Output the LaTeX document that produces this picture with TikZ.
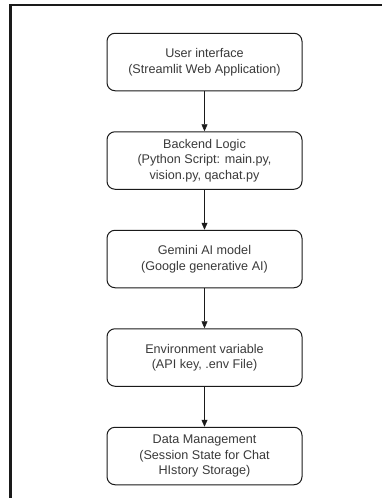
\documentclass[tikz,border=0pt]{standalone}
\usepackage{fontspec}
\setmainfont{Liberation Sans}
\usepackage{xcolor}
\usetikzlibrary{
	arrows.meta,
	positioning
}
\definecolor{textgray}{HTML}{3A3A3A}
\definecolor{edgegray}{HTML}{1A1A1A}

\begin{document}
\begin{tikzpicture}[x=1pt, y=1pt,
		blockbox/.style={draw=edgegray, line width=1pt, rounded corners=8pt, fill=white,
			minimum width=195pt, minimum height=57.5pt, align=center,
			text=textgray, font=\fontsize{12.6}{15.5}\selectfont},
		flowarrow/.style={draw=edgegray, line width=0.6pt, -{Triangle[length=7pt, width=6pt]}},
		node distance=40pt]
		\useasboundingbox (0,0) rectangle (382,-498);
		% outer frame
		\coordinate (TL) at (10,-5);
		\coordinate (TR) at (382,-5);
		\coordinate (BL) at (10,-498);
		\draw[line width=2pt, edgegray] (TL)--(TR);
		\draw[line width=3pt, edgegray] (BL)--(10,-4);
		% blocks
		\node[blockbox] (ui) at (204.5,-62) {User interface\\(Streamlit Web Application)};
		\node[blockbox, below=of ui] (backend) {Backend Logic\\(Python Script: main.py,\\vision.py, qachat.py};
		\node[blockbox, below=of backend] (gemini) {Gemini AI model\\(Google generative AI)};
		\node[blockbox, below=of gemini] (env) {Environment variable\\(API key, .env File)};
		\node[blockbox, below=of env] (data) {Data Management\\(Session State for Chat\\HIstory Storage)};
		% connectors
		\draw[flowarrow] (ui)--(backend);
		\draw[flowarrow] (backend)--(gemini);
		\draw[flowarrow] (gemini)--(env);
		\draw[flowarrow] (env)--(data);
	\end{tikzpicture}
\end{document}
